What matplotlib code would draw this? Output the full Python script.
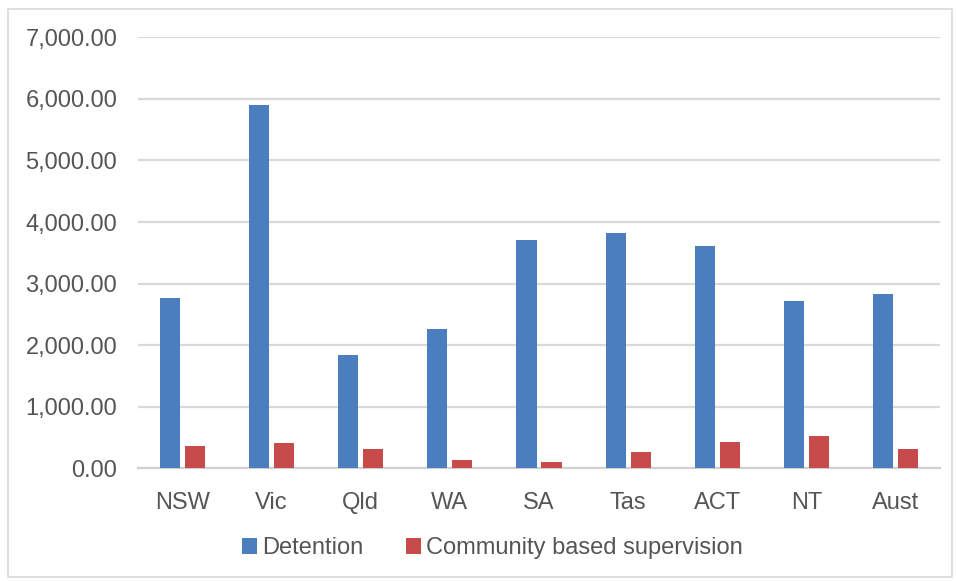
import numpy as np
import matplotlib.pyplot as plt
from matplotlib.patches import Rectangle
from matplotlib.ticker import FuncFormatter

# rates by jurisdiction
states = ['NSW', 'Vic', 'Qld', 'WA', 'SA', 'Tas', 'ACT', 'NT', 'Aust']
detention = [2765, 5905, 1833, 2256, 3714, 3814, 3613, 2712, 2837]
community = [358, 411, 314, 140, 102, 270, 433, 530, 314]

plt.rcParams['font.family'] = ['Liberation Sans', 'DejaVu Sans']

fig = plt.figure(figsize=(9.56, 5.81), dpi=100)
ax = fig.add_axes([138 / 956, 1 - 468.3 / 581, (940 - 138) / 956, (468.3 - 37.3) / 581])

x = np.arange(len(states))
w = 0.225
ax.bar(x - 0.14, detention, w, color='#4A7EBF', label='Detention', zorder=3)
ax.bar(x + 0.14, community, w, color='#C84B4B', label='Community based supervision', zorder=3)

ax.set_xlim(-0.5, len(states) - 0.5)
ax.set_ylim(0, 7000)
ax.set_yticks(range(0, 7001, 1000))
ax.yaxis.set_major_formatter(FuncFormatter(lambda v, p: f'{v:,.2f}'))
ax.set_xticks(x)
ax.set_xticklabels(states)
ax.grid(axis='y', color='#D9D9D9', linewidth=1.6, zorder=0)
for s in ['top', 'right', 'left']:
    ax.spines[s].set_visible(False)
ax.spines['bottom'].set_color('#D0D0D0')
ax.spines['bottom'].set_linewidth(1.6)
ax.tick_params(axis='both', length=0, labelsize=17, colors='#555555')
ax.tick_params(axis='y', pad=15)
ax.tick_params(axis='x', pad=17)

leg = fig.legend(loc='center', bbox_to_anchor=(0.515, 1 - 548 / 581), ncol=2,
                 frameon=False, fontsize=17, handlelength=0.65, handleheight=0.65,
                 handletextpad=0.2, columnspacing=1.8)
for t in leg.get_texts():
    t.set_color('#555555')

# thin frame around the chart
fig.patches.append(Rectangle((8 / 956, 4 / 581), 944 / 956, 568 / 581,
                             transform=fig.transFigure, fill=False,
                             edgecolor='#D9D9D9', linewidth=1.2))

fig.savefig('out.png', dpi=100)
